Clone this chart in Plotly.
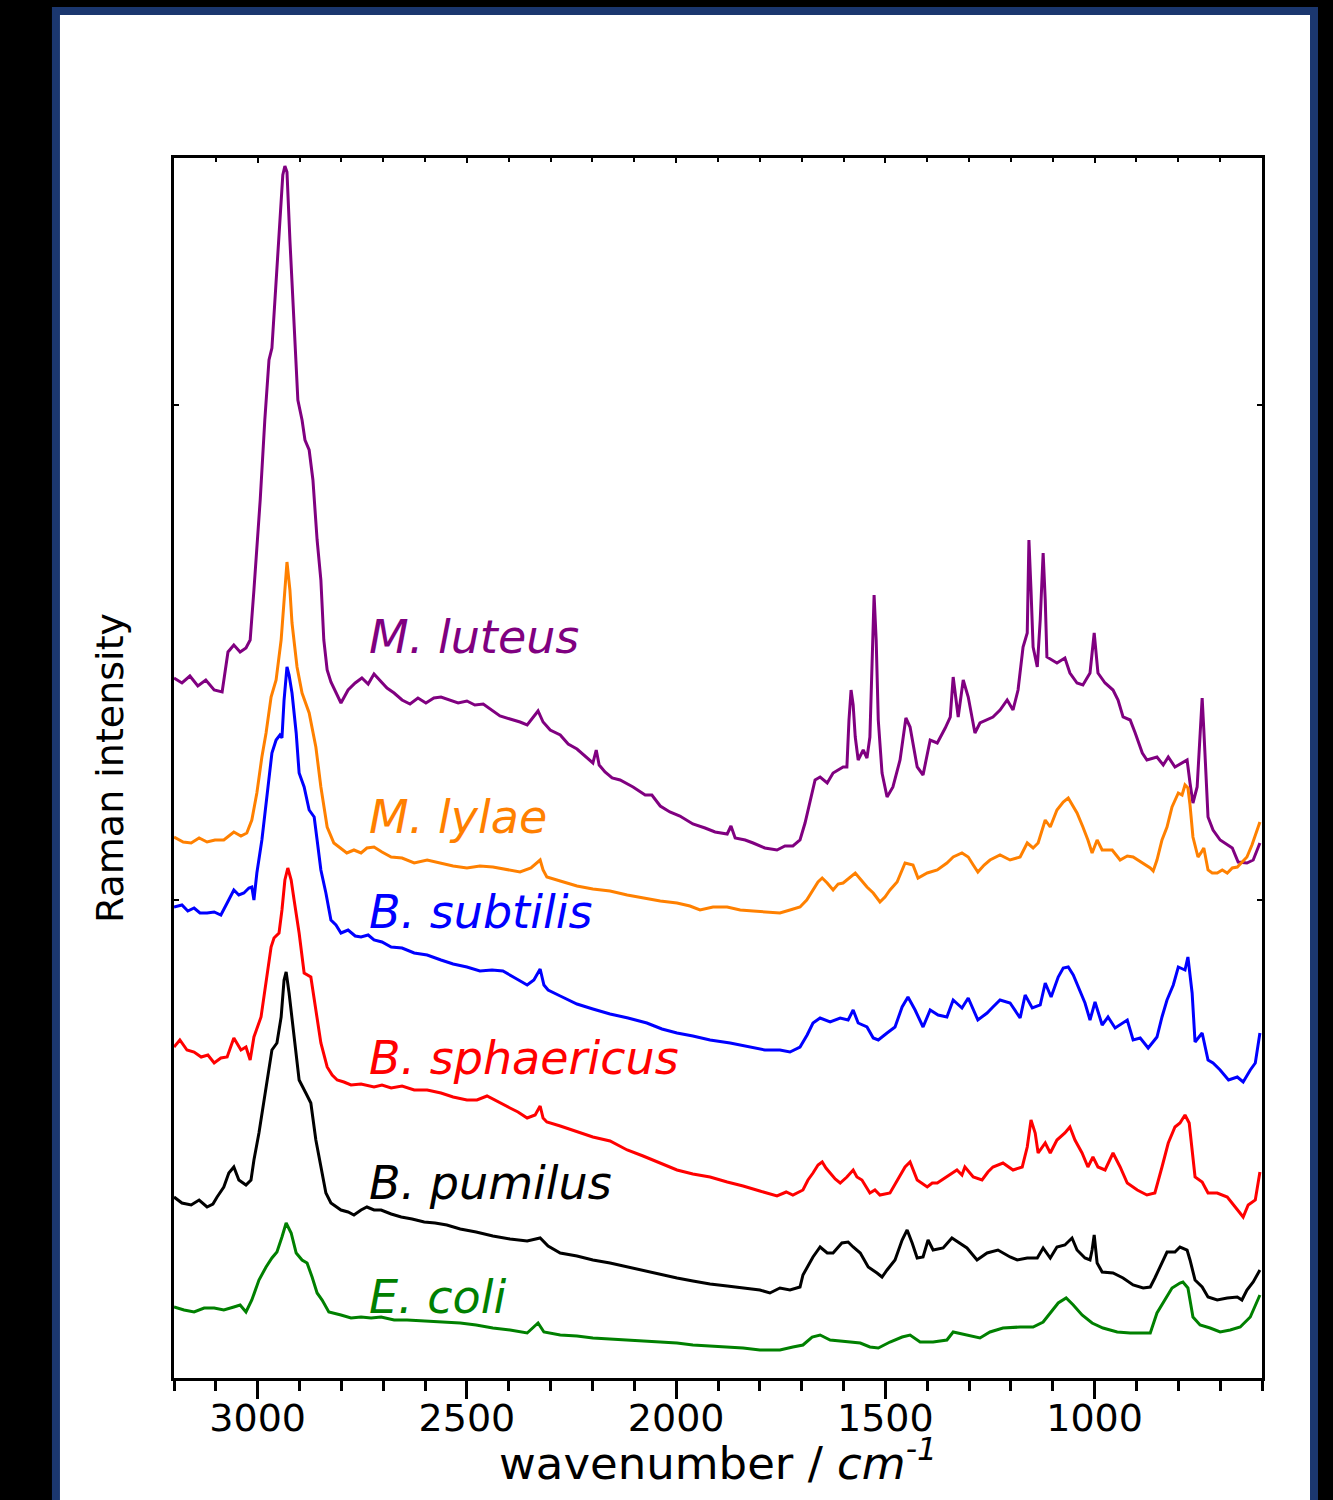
import plotly.graph_objects as go

# ---------------- data (wavenumber / cm-1, Raman intensity in arbitrary units, offset stacked) ----------------
luteus_wn = [3200, 3181, 3162, 3143, 3124, 3104, 3085, 3071, 3057, 3042, 3028, 3018, 3009, 2994, 2983, 2973, 2966,
             2959, 2949, 2940, 2935, 2930, 2923, 2913, 2904, 2894, 2887, 2877, 2868, 2858, 2849, 2842, 2834, 2825,
             2813, 2801, 2784, 2767, 2751, 2736, 2722, 2708, 2691, 2674, 2655, 2636, 2617, 2598, 2579, 2562, 2540,
             2521, 2500, 2481, 2461, 2440, 2421, 2397, 2373, 2356, 2342, 2330, 2318, 2301, 2277, 2258, 2237, 2218,
             2199, 2191, 2184, 2170, 2153, 2134, 2103, 2074, 2058, 2038, 2015, 1991, 1960, 1931, 1907, 1878, 1869,
             1859, 1835, 1816, 1788, 1759, 1740, 1721, 1704, 1692, 1680, 1668, 1656, 1639, 1625, 1601, 1592, 1587,
             1582, 1577, 1572, 1565, 1553, 1544, 1537, 1532, 1527, 1522, 1517, 1508, 1496, 1482, 1465, 1451, 1441,
             1424, 1410, 1393, 1376, 1357, 1345, 1338, 1331, 1326, 1314, 1302, 1286, 1274, 1243, 1226, 1209, 1195,
             1183, 1171, 1161, 1157, 1152, 1147, 1137, 1130, 1123, 1118, 1114, 1090, 1071, 1059, 1042, 1028, 1011,
             1001, 992, 975, 956, 944, 932, 915, 903, 886, 875, 851, 836, 824, 808, 779, 772, 765, 755, 748, 743,
             739, 736, 729, 717, 700, 671, 657, 636, 621, 605]
luteus_int = [700, 695, 702, 692, 698, 688, 686, 726, 733, 726, 730, 738, 788, 878, 958, 1018, 1030,
              1078, 1148, 1203, 1212, 1206, 1138, 1058, 978, 958, 938, 928, 898, 838, 798, 738, 708, 696,
              686, 675, 688, 695, 700, 694, 704, 698, 690, 685, 678, 674, 680, 675, 680, 681, 678,
              675, 677, 673, 674, 668, 662, 659, 656, 653, 660, 667, 656, 648, 643, 634, 629, 622,
              615, 628, 613, 606, 600, 598, 591, 583, 583, 572, 566, 562, 554, 550, 546, 544, 552,
              540, 538, 535, 530, 528, 532, 532, 538, 555, 575, 598, 601, 595, 605, 611, 611, 658,
              688, 673, 641, 618, 628, 620, 641, 718, 783, 738, 658, 605, 581, 591, 618, 660, 651,
              611, 603, 638, 635, 650, 661, 701, 678, 661, 698, 681, 645, 655, 661, 668, 678, 668,
              688, 731, 745, 838, 788, 731, 711, 758, 825, 778, 721, 715, 720, 705, 695, 693, 705,
              745, 705, 695, 688, 678, 661, 658, 645, 625, 618, 621, 613, 621, 611, 618, 595, 575, 591, 638, 680,
              648, 625, 561, 548, 538, 530, 516, 515, 518, 535]

lylae_wn = [3200, 3178, 3159, 3140, 3121, 3102, 3081, 3057, 3040, 3026, 3014, 3002, 2990, 2980, 2968, 2956, 2944,
            2937, 2930, 2923, 2918, 2906, 2894, 2877, 2861, 2849, 2834, 2818, 2803, 2787, 2770, 2753, 2739, 2722,
            2703, 2681, 2655, 2626, 2595, 2562, 2533, 2500, 2469, 2438, 2404, 2373, 2347, 2325, 2318, 2309, 2277,
            2237, 2199, 2158, 2117, 2079, 2038, 1998, 1967, 1943, 1912, 1878, 1847, 1816, 1783, 1752, 1728, 1704,
            1688, 1673, 1661, 1651, 1639, 1625, 1613, 1601, 1587, 1572, 1558, 1544, 1529, 1513, 1501, 1489, 1472,
            1462, 1453, 1434, 1422, 1400, 1376, 1353, 1338, 1317, 1302, 1290, 1279, 1264, 1250, 1226, 1202, 1178,
            1161, 1147, 1135, 1118, 1106, 1090, 1075, 1063, 1054, 1042, 1028, 1016, 1006, 994, 982, 958, 939, 922,
            908, 884, 867, 860, 851, 839, 827, 815, 800, 791, 784, 777, 772, 765, 753, 746, 739, 729, 719, 707,
            695, 683, 671, 659, 648, 636, 624, 612, 605]
lylae_int = [541, 536, 535, 540, 536, 538, 538, 546, 542, 545, 558, 585, 621, 645, 681, 698, 738,
             778, 816, 788, 755, 711, 685, 665, 631, 591, 551, 535, 530, 525, 528, 525, 530, 531,
             526, 521, 520, 515, 518, 515, 512, 510, 512, 511, 508, 506, 510, 518, 508, 501, 497,
             492, 489, 487, 483, 480, 477, 475, 472, 468, 471, 471, 468, 467, 466, 465, 468, 471,
             478, 488, 496, 500, 495, 488, 494, 495, 500, 505, 498, 491, 485, 476, 481, 488, 496,
             506, 515, 513, 500, 505, 508, 515, 521, 525, 521, 513, 506, 513, 518, 523, 518, 521,
             535, 530, 535, 558, 551, 568, 576, 580, 573, 565, 551, 538, 525, 538, 528, 528, 518, 522,
             521, 515, 510, 507, 518, 538, 551, 571, 585, 583, 593, 590, 573, 541, 521, 525, 530, 508, 505, 505,
             508, 505, 510, 511, 516, 521, 533, 548, 556]

subtilis_wn = [3200, 3181, 3167, 3152, 3138, 3121, 3104, 3088, 3073, 3057, 3045, 3033, 3021, 3014, 3009, 3002,
               2990, 2978, 2966, 2956, 2947, 2942, 2937, 2930, 2925, 2918, 2908, 2901, 2889, 2877, 2865, 2858,
               2849, 2837, 2825, 2813, 2801, 2784, 2767, 2753, 2736, 2722, 2703, 2681, 2655, 2626, 2595, 2562,
               2533, 2500, 2469, 2440, 2414, 2385, 2356, 2340, 2325, 2316, 2306, 2277, 2237, 2199, 2158, 2115,
               2070, 2034, 1998, 1960, 1919, 1871, 1823, 1788, 1752, 1728, 1704, 1687, 1673, 1656, 1632, 1608,
               1589, 1577, 1565, 1544, 1529, 1517, 1496, 1477, 1460, 1446, 1429, 1410, 1393, 1374, 1353, 1338,
               1317, 1302, 1279, 1257, 1243, 1226, 1202, 1178, 1166, 1149, 1130, 1118, 1104, 1087, 1075, 1063,
               1051, 1035, 1023, 1011, 999, 982, 968, 951, 922, 908, 891, 872, 851, 839, 827, 812, 800, 784, 777,
               767, 760, 743, 729, 717, 700, 680, 659, 645, 628, 616, 605]
subtilis_int = [471, 473, 467, 470, 465, 465, 466, 463, 475, 488, 483, 485, 490, 491, 478, 505,
                538, 585, 625, 638, 643, 640, 678, 711, 703, 685, 645, 605, 591, 568, 561, 538,
                508, 485, 458, 453, 445, 448, 442, 441, 443, 438, 436, 431, 430, 425, 423, 418,
                414, 411, 407, 408, 407, 400, 393, 398, 409, 393, 388, 382, 374, 369, 364, 360,
                355, 349, 345, 342, 338, 335, 331, 328, 328, 326, 331, 343, 355, 360, 356, 360,
                358, 368, 355, 351, 340, 338, 345, 351, 371, 381, 368, 351, 368, 363, 361, 378,
                370, 380, 358, 365, 371, 378, 375, 360, 383, 370, 373, 395, 381, 401, 410, 411,
                403, 388, 375, 358, 376, 353, 361, 350, 358, 338, 340, 330, 341, 361, 378, 393, 411, 408, 421,
                385, 336, 345, 318, 315, 308, 298, 301, 296, 308, 315, 345]

sphaericus_wn = [3200, 3186, 3169, 3152, 3135, 3119, 3104, 3088, 3073, 3057, 3040, 3028, 3018, 3009, 2992,
                 2980, 2968, 2961, 2949, 2942, 2935, 2928, 2920, 2913, 2901, 2889, 2880, 2873, 2861, 2849, 2834,
                 2822, 2810, 2794, 2777, 2753, 2722, 2703, 2681, 2655, 2626, 2595, 2562, 2533, 2500, 2476, 2452,
                 2426, 2397, 2378, 2356, 2337, 2325, 2318, 2309, 2277, 2237, 2199, 2158, 2117, 2079, 2038, 1998,
                 1960, 1919, 1878, 1840, 1800, 1759, 1737, 1721, 1697, 1685, 1673, 1661, 1651, 1642, 1632, 1620,
                 1608, 1592, 1577, 1568, 1556, 1537, 1525, 1513, 1489, 1470, 1453, 1441, 1431, 1424, 1400, 1388,
                 1376, 1353, 1329, 1317, 1310, 1290, 1269, 1255, 1243, 1219, 1195, 1173, 1161, 1152, 1142, 1135,
                 1118, 1106, 1090, 1071, 1059, 1047, 1030, 1016, 1004, 992, 975, 956, 939, 922, 898, 875, 856, 839,
                 824, 808, 796, 784, 774, 760, 743, 729, 707, 683, 664, 645, 633, 616, 605]
sphaericus_int = [331, 338, 328, 326, 321, 323, 315, 320, 321, 340, 328, 331, 318, 341, 361,
                  395, 431, 440, 445, 468, 498, 510, 498, 478, 445, 405, 403, 401, 368, 335, 311,
                  303, 298, 296, 293, 294, 291, 293, 290, 292, 288, 288, 285, 281, 278, 278, 282,
                  276, 270, 266, 260, 263, 272, 260, 256, 252, 246, 241, 237, 228, 222, 215, 208,
                  204, 201, 196, 192, 187, 182, 186, 183, 188, 198, 205, 213, 216, 210, 205, 199,
                  195, 201, 208, 201, 198, 185, 188, 183, 185, 198, 211, 216, 206, 198, 191, 195,
                  195, 201, 208, 203, 211, 201, 198, 206, 211, 215, 208, 211, 231, 258, 245, 225,
                  235, 225, 238, 245, 251, 238, 225, 211, 221, 211, 208, 225, 211, 195, 188, 183, 185, 211,
                  235, 251, 255, 263, 255, 201, 196, 185, 185, 181, 171, 161, 173, 178, 206]

pumilus_wn = [3200, 3181, 3159, 3140, 3121, 3107, 3097, 3081, 3069, 3057, 3045, 3028, 3016, 3009, 2997, 2985,
              2973, 2966, 2954, 2944, 2937, 2932, 2925, 2913, 2901, 2885, 2873, 2861, 2849, 2837, 2825, 2801,
              2784, 2770, 2753, 2739, 2722, 2705, 2681, 2657, 2631, 2602, 2576, 2548, 2516, 2478, 2438, 2397,
              2356, 2325, 2306, 2277, 2237, 2199, 2158, 2117, 2079, 2038, 1998, 1960, 1919, 1878, 1840, 1800,
              1776, 1752, 1728, 1704, 1697, 1687, 1673, 1656, 1639, 1625, 1604, 1589, 1577, 1560, 1541, 1520,
              1508, 1496, 1477, 1460, 1448, 1436, 1424, 1410, 1398, 1386, 1362, 1341, 1326, 1305, 1281, 1257,
              1231, 1202, 1185, 1161, 1137, 1123, 1106, 1090, 1071, 1054, 1042, 1023, 1011, 1006, 1001, 994, 982,
              956, 932, 908, 884, 867, 856, 844, 827, 808, 796, 779, 772, 760, 743, 729, 707, 683, 659, 648, 636,
              621, 605]
pumilus_int = [181, 175, 173, 178, 171, 174, 181, 191, 205, 211, 198, 193, 198, 218, 245, 278,
               311, 328, 335, 361, 398, 406, 385, 338, 298, 285, 275, 238, 211, 185, 175, 168,
               166, 163, 168, 171, 168, 168, 164, 161, 159, 156, 155, 153, 149, 146, 142, 139,
               137, 140, 132, 125, 122, 118, 115, 111, 108, 104, 100, 97, 94, 92, 90, 88,
               85, 90, 88, 91, 103, 111, 121, 131, 125, 125, 135, 136, 131, 125, 111, 105,
               101, 108, 118, 138, 148, 135, 120, 121, 138, 128, 130, 140, 136, 130, 118, 125,
               128, 121, 118, 120, 120, 130, 120, 131, 133, 140, 128, 120, 118, 128, 143, 115, 106,
               105, 100, 93, 90, 91, 100, 111, 126, 126, 131, 128, 118, 98, 91, 81, 78, 80, 81, 78, 88,
               96, 108]

ecoli_wn = [3200, 3176, 3152, 3128, 3104, 3081, 3057, 3042, 3028, 3014, 2997, 2980, 2966, 2954, 2942, 2932,
            2920, 2908, 2894, 2882, 2870, 2858, 2846, 2830, 2801, 2777, 2753, 2729, 2705, 2674, 2643, 2602,
            2562, 2516, 2478, 2438, 2397, 2356, 2330, 2316, 2277, 2237, 2199, 2158, 2117, 2079, 2038, 1998,
            1960, 1919, 1878, 1840, 1800, 1752, 1721, 1697, 1675, 1656, 1632, 1592, 1560, 1537, 1517, 1489,
            1460, 1441, 1417, 1386, 1353, 1338, 1305, 1274, 1250, 1219, 1178, 1147, 1123, 1106, 1087, 1068,
            1051, 1030, 1006, 980, 946, 915, 891, 867, 851, 836, 815, 796, 789, 777, 765, 748, 724, 700, 676,
            652, 628, 605]
ecoli_int = [71, 68, 66, 70, 70, 68, 71, 73, 66, 78, 98, 111, 120, 126, 141, 155,
             145, 125, 118, 115, 101, 85, 78, 66, 63, 60, 61, 60, 61, 58, 58, 57,
             56, 55, 53, 50, 48, 45, 55, 46, 43, 42, 40, 39, 38, 37, 36, 35,
             33, 32, 31, 30, 28, 28, 31, 33, 41, 43, 38, 36, 35, 31, 30, 36,
             41, 43, 36, 36, 38, 46, 43, 40, 46, 50, 51, 51, 56, 65, 75, 80,
             73, 63, 55, 50, 46, 45, 45, 45, 65, 75, 90, 95, 96, 90, 61, 53, 50, 46, 48,
             51, 61, 83]

series_names = ["M. luteus", "M. lylae", "B. subtilis", "B. sphaericus", "B. pumilus", "E. coli"]
series_colors = ["#800080", "#ff8000", "#0000ff", "#ff0000", "#000000", "#008000"]
series_x = [luteus_wn, lylae_wn, subtilis_wn, sphaericus_wn, pumilus_wn, ecoli_wn]
series_y = [luteus_int, lylae_int, subtilis_int, sphaericus_int, pumilus_int, ecoli_int]

# label anchor points (data units)
label_wn = [2738, 2738, 2738, 2738, 2738, 2738]
label_int = [741, 561, 466, 320, 195, 81]

x_tickvals = [3000, 2500, 2000, 1500, 1000]
x_title = "wavenumber / <i>cm</i><sup><i>-1</i></sup>"
y_title = "Raman intensity"

# ---------------- figure ----------------
FONT = "DejaVu Sans"
fig = go.Figure()
for nm, col, xs, ys in zip(series_names, series_colors, series_x, series_y):
    fig.add_trace(go.Scatter(x=xs, y=ys, mode="lines", name=nm,
                             line=dict(color=col, width=3), showlegend=False))

# empty trace to host the top axis (inward ticks)
fig.add_trace(go.Scatter(x=[], y=[], xaxis="x2", showlegend=False))

for nm, col, lx, ly in zip(series_names, series_colors, label_wn, label_int):
    fig.add_annotation(x=lx, y=ly, text=f"<i>{nm}</i>", showarrow=False, xanchor="left", yanchor="middle",
                       font=dict(family=FONT, size=46, color=col))

# x-axis title placed as an annotation for exact vertical placement
fig.add_annotation(x=0.5, y=-0.0675, xref="paper", yref="paper", text=x_title, showarrow=False,
                   xanchor="center", yanchor="middle", font=dict(family=FONT, size=45, color="black"))

fig.add_shape(type="rect", xref="paper", yref="paper", x0=-0.1085, x1=1.0478, y0=-0.12, y1=1.1205,
              fillcolor="white", line=dict(color="#1b376f", width=8), layer="below")

fig.update_layout(
    width=1333, height=1500,
    margin=dict(l=174, r=71, t=158, b=122),
    paper_bgcolor="black", plot_bgcolor="white",
    font=dict(family=FONT, color="black"),
    xaxis=dict(range=[3200, 600], tickvals=x_tickvals, ticktext=[str(v) for v in x_tickvals],
               ticks="outside", ticklen=18, tickwidth=3, tickcolor="black", ticklabelstandoff=-14,
               minor=dict(dtick=100, tick0=0, ticks="outside", ticklen=10, tickwidth=3, tickcolor="black"),
               showline=True, linewidth=3, linecolor="black", mirror=True, showgrid=False, zeroline=False,
               tickfont=dict(family=FONT, size=38, color="black")),
    xaxis2=dict(range=[3200, 600], overlaying="x", side="top", showticklabels=False, showgrid=False,
                zeroline=False, showline=False, ticks="inside", ticklen=5, tickwidth=2, tickcolor="black",
                tickvals=x_tickvals,
                minor=dict(dtick=100, tick0=0, ticks="inside", ticklen=4, tickwidth=2, tickcolor="black")),
    yaxis=dict(range=[0, 1220], showticklabels=False, ticks="inside", ticklen=5, tickwidth=2,
               tick0=478, dtick=495, tickcolor="black",
               showline=True, linewidth=3, linecolor="black", mirror="ticks", showgrid=False, zeroline=False,
               title=dict(text=y_title, font=dict(family=FONT, size=38, color="black"), standoff=36)),
)

fig.write_html("out.html", config={"displayModeBar": False},
               post_script="document.body.style.margin='0px';document.body.style.background='black';")
